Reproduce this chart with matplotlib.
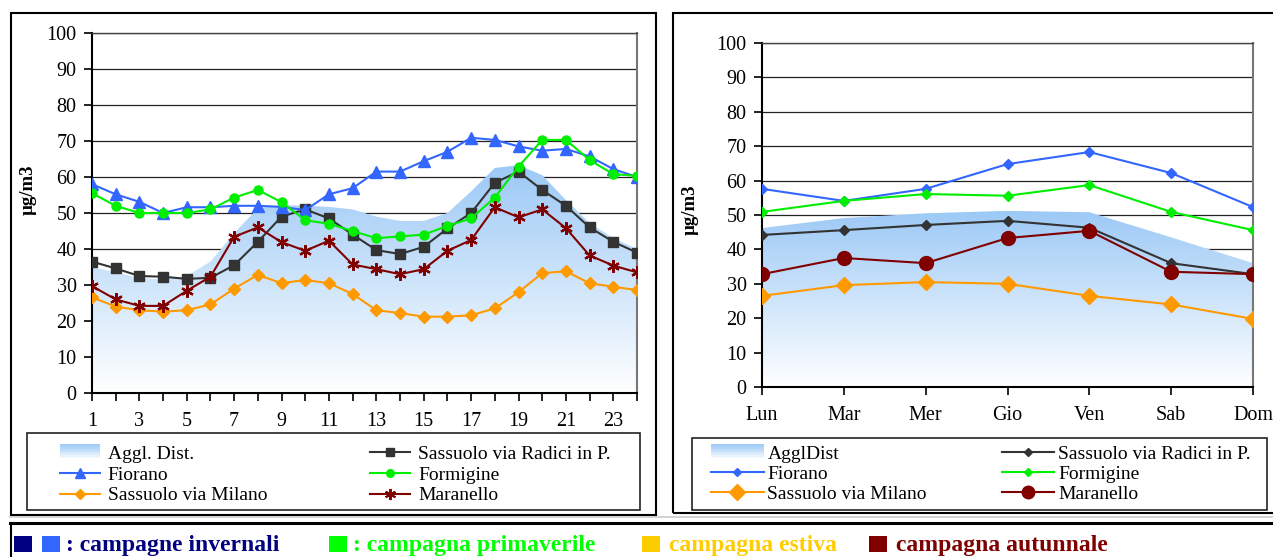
import numpy as np
import matplotlib
matplotlib.use('Agg')
import matplotlib.pyplot as plt
from matplotlib.colors import LinearSegmentedColormap
from matplotlib.patches import Rectangle
from matplotlib.legend_handler import HandlerBase
from matplotlib.lines import Line2D

plt.rcParams['font.family'] = ['Liberation Serif', 'DejaVu Serif']

# hourly profile (left)
hours = list(range(1, 25))
hour_labels = [str(h) if h % 2 == 1 else '' for h in hours]
agg_h = [35, 33.5, 32, 31.5, 32.5, 36.5, 44.4, 51.3, 52.2, 52, 51.7, 51, 49, 47.8,
         47.8, 50, 56, 62.5, 63.3, 60.5, 53.6, 47.2, 43, 40]
fiorano_h = [58, 55.2, 53.1, 50, 51.6, 51.6, 52, 52, 51.7, 50.8, 55.2, 56.9, 61.5, 61.5,
             64.4, 67, 70.9, 70.3, 68.5, 67.3, 67.8, 65.7, 62.2, 60]
formigine_h = [55.5, 52, 50, 50, 50, 51, 54.3, 56.4, 53, 48, 47, 45, 43, 43.5,
               44, 46.4, 48.5, 54.3, 62.9, 70.3, 70.3, 64.7, 60.8, 60.3]
radici_h = [36.5, 34.6, 32.5, 32.3, 31.7, 32, 35.5, 42, 49, 51, 48.5, 44, 39.7, 38.6,
            40.6, 45.7, 50, 58.4, 61.5, 56.4, 52, 46, 42, 39]
maranello_h = [29.7, 26, 24.2, 24.2, 28.4, 32.3, 43.4, 46, 41.9, 39.5, 42.3, 35.7, 34.4, 33,
               34.4, 39.5, 42.5, 51.6, 48.8, 51, 45.8, 38.2, 35.4, 33.5]
milano_h = [26.6, 24, 23, 22.6, 23, 24.6, 29, 32.8, 30.5, 31.4, 30.5, 27.5, 23, 22.2,
            21.2, 21.2, 21.6, 23.5, 28, 33.3, 33.8, 30.5, 29.5, 28.6]

# weekly profile (right)
days = ['Lun', 'Mar', 'Mer', 'Gio', 'Ven', 'Sab', 'Dom']
agg_d = [46.2, 49.1, 50.5, 51.2, 50.8, 43.5, 36]
fiorano_d = [57.6, 54.1, 57.6, 64.8, 68.3, 62.2, 52.3]
formigine_d = [50.9, 54.1, 56.1, 55.6, 58.7, 50.9, 45.6]
radici_d = [44.2, 45.6, 47.1, 48.3, 46.3, 36, 32.8]
maranello_d = [32.8, 37.5, 36, 43.3, 45.4, 33.5, 32.8]
milano_d = [26.5, 29.6, 30.5, 30, 26.5, 24, 19.8]

yticks = list(range(0, 101, 10))

BLUE = '#3366FF'
GREEN = '#00EE00'
DARK = '#333333'
RED = '#800000'
ORANGE = '#FF9900'
cmap = LinearSegmentedColormap.from_list('agg', ['#FFFFFF', '#9CC9F6'])

W, H = 1273, 557
fig = plt.figure(figsize=(W / 100, H / 100), dpi=100)


def fx(px):
    return px / W


def fy(py):
    return 1 - py / H


class GradHandler(HandlerBase):
    def create_artists(self, legend, orig_handle, xdescent, ydescent, width, height, fontsize, trans):
        arts = []
        n = 10
        for i in range(n):
            c = cmap(1 - i / (n - 1))
            arts.append(Rectangle((-xdescent, -ydescent + height * 1.2 * (n - 1 - i) / n - 0.1 * height),
                                  width, height * 1.2 / n, facecolor=c, edgecolor='none',
                                  transform=trans))
        return arts


def style_axes(ax, x, agg, xlabels, xlim):
    poly = ax.fill_between(x, agg, 0, facecolor='none', edgecolor='none')
    grad = np.linspace(0, 1, 256).reshape(-1, 1)
    im = ax.imshow(grad, cmap=cmap, aspect='auto', origin='lower',
                   extent=[x[0], x[-1], 0, max(agg)], zorder=1)
    im.set_clip_path(poly.get_paths()[0], transform=ax.transData)
    ax.set_xlim(*xlim)
    ax.set_ylim(0, 100)
    ax.set_yticks(yticks)
    ax.set_yticklabels([str(v) for v in yticks])
    ax.set_xticks(x)
    ax.set_xticklabels(xlabels)
    ax.yaxis.grid(True, color='#222222', lw=0.9)
    ax.set_axisbelow(True)
    ax.tick_params(axis='both', direction='out', length=6, width=1.2, labelsize=14.5)
    ax.tick_params(axis='x', pad=8)
    ax.tick_params(axis='y', pad=5)
    for s in ['left', 'bottom']:
        ax.spines[s].set_linewidth(1.5)
        ax.spines[s].set_color('black')
    ax.spines['right'].set_color('#777777')
    ax.spines['right'].set_linewidth(1.5)
    ax.spines['top'].set_color('#444444')
    ax.spines['top'].set_linewidth(1.0)


# ---- left chart
ax1 = fig.add_axes([fx(92), fy(393), fx(545), 360 / H])
style_axes(ax1, hours, agg_h, hour_labels, (1, 24))
kw = dict(lw=1.5, zorder=3)
ax1.plot(hours, radici_h, color=DARK, marker='s', ms=6.5, **kw)
ax1.plot(hours, fiorano_h, color=BLUE, marker='^', ms=8.5, **kw)
ax1.plot(hours, formigine_h, color=GREEN, marker='o', ms=6.5, **kw)
ax1.plot(hours, milano_h, color=ORANGE, marker='D', ms=6, **kw)
ax1.plot(hours, maranello_h, color=RED, marker=(6, 2, 0), ms=9, mew=1.6, **kw)

h_left = [Rectangle((0, 0), 1, 1),
          Line2D([], [], color=BLUE, marker='^', ms=7, lw=1.5),
          Line2D([], [], color=ORANGE, marker='D', ms=5, lw=1.5),
          Line2D([], [], color=DARK, marker='s', ms=5.5, lw=1.5),
          Line2D([], [], color=GREEN, marker='o', ms=5.5, lw=1.5),
          Line2D([], [], color=RED, marker=(6, 2, 0), ms=8, mew=1.4, lw=1.5)]
l_left = ['Aggl. Dist.', 'Fiorano', 'Sassuolo via Milano',
          'Sassuolo via Radici in P.', 'Formigine', 'Maranello']
fig.legend(h_left, l_left, loc='upper left', bbox_to_anchor=(fx(60), fy(445)),
           bbox_transform=fig.transFigure, ncol=2, frameon=False, fontsize=14,
           borderpad=0, borderaxespad=0, handlelength=2.06, handletextpad=0.4,
           columnspacing=5.3, labelspacing=0.17, handler_map={Rectangle: GradHandler()})
fig.add_artist(Rectangle((fx(27), fy(510)), fx(613), 77 / H, transform=fig.transFigure,
                         fill=False, edgecolor='#222222', lw=1.2))
fig.text(fx(28), fy(190), 'µg/m3', rotation=90, ha='center', va='center',
         fontsize=13.5, fontweight='bold')

# ---- right chart
xd = list(range(len(days)))
ax2 = fig.add_axes([fx(762), fy(387), fx(491), 344 / H])
style_axes(ax2, xd, agg_d, days, (0, 6))
ax2.plot(xd, radici_d, color=DARK, marker='D', ms=5.5, **kw)
ax2.plot(xd, fiorano_d, color=BLUE, marker='D', ms=5.5, **kw)
ax2.plot(xd, formigine_d, color=GREEN, marker='D', ms=5.5, **kw)
ax2.plot(xd, milano_d, color=ORANGE, marker='D', ms=8.5, **kw)
ax2.plot(xd, maranello_d, color=RED, marker='o', ms=10, **kw)

h_right = [Rectangle((0, 0), 1, 1),
           Line2D([], [], color=BLUE, marker='D', ms=4.5, lw=1.5),
           Line2D([], [], color=ORANGE, marker='D', ms=8, lw=1.5),
           Line2D([], [], color=DARK, marker='D', ms=4.5, lw=1.5),
           Line2D([], [], color=GREEN, marker='D', ms=4.5, lw=1.5),
           Line2D([], [], color=RED, marker='o', ms=9, lw=1.5)]
l_right = ['AgglDist', 'Fiorano', 'Sassuolo via Milano',
           'Sassuolo via Radici in P.', 'Formigine', 'Maranello']
fig.legend(h_right, l_right, loc='upper left', bbox_to_anchor=(fx(711), fy(445)),
           bbox_transform=fig.transFigure, ncol=2, frameon=False, fontsize=14,
           borderpad=0, borderaxespad=0, handlelength=2.7, handletextpad=0.2,
           columnspacing=3.85, labelspacing=0.14, handler_map={Rectangle: GradHandler()})
fig.add_artist(Rectangle((fx(692), fy(510)), fx(575), 72 / H, transform=fig.transFigure,
                         fill=False, edgecolor='#222222', lw=1.2))
fig.text(fx(690), fy(210), 'µg/m3', rotation=90, ha='center', va='center',
         fontsize=13.5, fontweight='bold')

# panel frames
fig.add_artist(Rectangle((fx(11), fy(515)), fx(645), 502 / H, transform=fig.transFigure,
                         fill=False, edgecolor='black', lw=1.5))
fig.add_artist(Rectangle((fx(673), fy(513)), fx(605), 500 / H, transform=fig.transFigure,
                         fill=False, edgecolor='black', lw=1.5))

# bottom strip
fig.add_artist(Line2D([fx(10), 1], [fy(517), fy(517)], color='#CCCCCC', lw=1.2))
fig.add_artist(Line2D([fx(10), 1], [fy(523), fy(523)], color='black', lw=2.2))
fig.add_artist(Line2D([fx(10.5), fx(10.5)], [fy(523), 0], color='black', lw=1.5))

strip_squares = [(14, '#000080'), (42, BLUE), (329, '#00FF00'), (642, '#FFCC00'), (869, RED)]
for x0, c in strip_squares:
    fig.add_artist(Rectangle((fx(x0), fy(552)), fx(18), 16 / H, transform=fig.transFigure,
                             facecolor=c, edgecolor='none'))
strip_texts = [(66, ': campagne invernali', '#000080'),
               (353, ': campagna primaverile', '#00FF00'),
               (669, 'campagna estiva', '#FFCC00'),
               (896, 'campagna autunnale', RED)]
for x0, t, c in strip_texts:
    fig.text(fx(x0), fy(545), t, ha='left', va='center', fontsize=17, fontweight='bold', color=c)

fig.savefig('out.png', dpi=100)
